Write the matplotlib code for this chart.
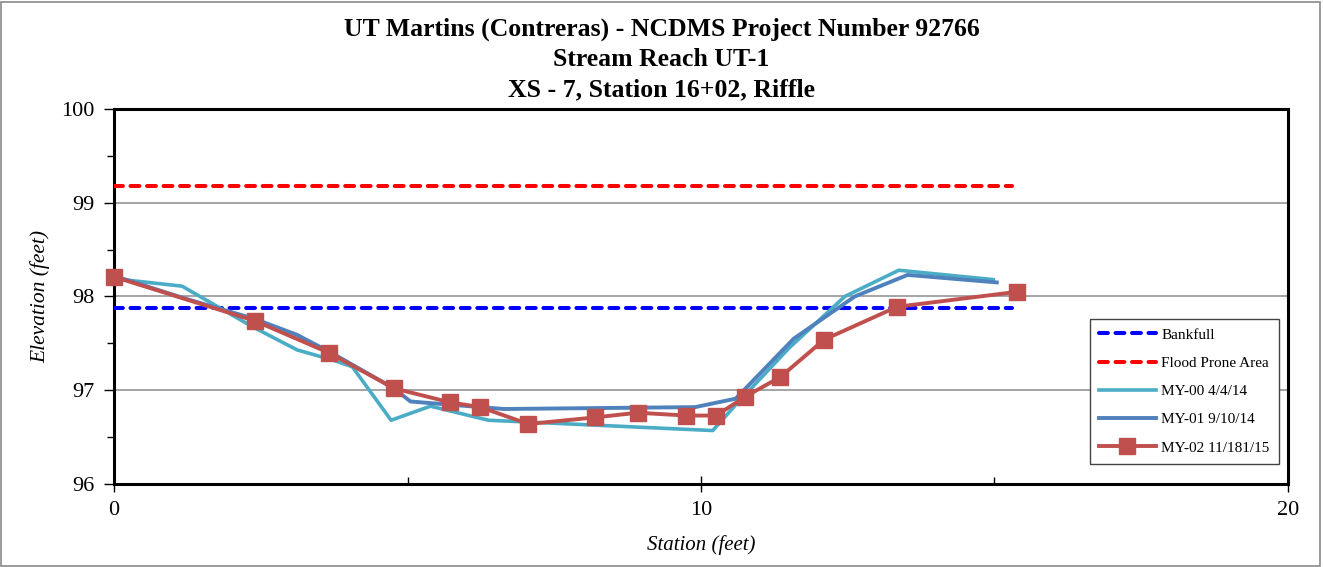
import matplotlib
matplotlib.use("Agg")
import matplotlib.pyplot as plt
from matplotlib.patches import Rectangle
from matplotlib.ticker import MultipleLocator

plt.rcParams['font.family'] = ['Liberation Serif', 'DejaVu Serif']

# survey data
bankfull_x = [0, 15.3]
bankfull_y = [97.88, 97.88]
flood_x = [0, 15.3]
flood_y = [99.18, 99.18]

my00_x = [0, 1.16, 2.35, 3.12, 3.74, 4.06, 4.72, 5.39, 6.38, 10.20, 10.6, 11.5, 12.45, 13.37, 14.98]
my00_y = [98.19, 98.11, 97.68, 97.43, 97.32, 97.25, 96.68, 96.83, 96.68, 96.57, 96.85, 97.45, 98.0, 98.28, 98.18]

my01_x = [0, 1.2, 2.4, 3.12, 3.70, 4.77, 5.05, 6.64, 9.90, 10.59, 11.58, 12.62, 13.52, 15.04]
my01_y = [98.22, 97.98, 97.76, 97.59, 97.40, 97.02, 96.88, 96.80, 96.82, 96.91, 97.55, 98.0, 98.23, 98.15]

my02_x = [0, 2.40, 3.66, 4.77, 5.73, 6.24, 7.06, 8.19, 8.92, 9.75, 10.26, 10.75, 11.35, 12.10, 13.34, 15.39]
my02_y = [98.21, 97.74, 97.40, 97.02, 96.87, 96.82, 96.64, 96.71, 96.76, 96.73, 96.73, 96.93, 97.14, 97.54, 97.89, 98.05]

title_lines = ['UT Martins (Contreras) - NCDMS Project Number 92766',
               'Stream Reach UT-1',
               'XS - 7, Station 16+02, Riffle']

fig = plt.figure(figsize=(13.23, 5.67), dpi=100)
ax = fig.add_axes([0.0862, 0.1464, 0.8873, 0.6614])

# gray frame round the whole chart
fig.patches.append(Rectangle((0.001, 0.002), 0.997, 0.995, transform=fig.transFigure,
                             fill=False, edgecolor='#8a8a8a', linewidth=1.2))

ax.plot(bankfull_x, bankfull_y, color='#0000FF', lw=2.9, dashes=(2.2, 1.9),
        dash_capstyle='round', label='Bankfull', zorder=3)
ax.plot(flood_x, flood_y, color='#FF0000', lw=2.9, dashes=(2.2, 1.9),
        dash_capstyle='round', label='Flood Prone Area', zorder=3)
ax.plot(my00_x, my00_y, color='#4BACC6', lw=2.6, label='MY-00 4/4/14', zorder=4)
ax.plot(my01_x, my01_y, color='#4F81BD', lw=2.8, label='MY-01 9/10/14', zorder=5)
ax.plot(my02_x, my02_y, color='#C0504D', lw=2.8, marker='s', markersize=11,
        label='MY-02 11/181/15', zorder=6, clip_on=False)

ax.set_xlim(0, 20)
ax.set_ylim(96, 100)
ax.xaxis.set_major_locator(MultipleLocator(10))
ax.xaxis.set_minor_locator(MultipleLocator(5))
ax.yaxis.set_major_locator(MultipleLocator(1))
ax.yaxis.set_minor_locator(MultipleLocator(0.5))

ax.tick_params(axis='x', which='major', direction='inout', length=12, width=1,
               labelsize=16, pad=6)
ax.tick_params(axis='x', which='minor', direction='in', length=5, width=1)
ax.tick_params(axis='y', which='major', direction='out', length=7, width=1,
               labelsize=16, pad=7)
ax.tick_params(axis='y', which='minor', direction='out', length=5, width=1)

for s in ax.spines.values():
    s.set_linewidth(2.2)
    s.set_color('black')

for yv in [97, 98, 99]:
    ax.axhline(yv, color='#8c8c8c', lw=1.1, zorder=1)

ax.set_xlabel('Station (feet)', fontsize=15, style='italic', labelpad=11)
ax.set_ylabel('Elevation (feet)', fontsize=15.5, style='italic', labelpad=8)

for i, line in enumerate(title_lines):
    fig.text(0.5, 0.9365 - i * 0.0529, line, ha='center', va='baseline',
             fontsize=18.5, fontweight='bold')

leg = ax.legend(loc='upper right', bbox_to_anchor=(0.9923, 0.44), fontsize=11,
                handlelength=3.75, handletextpad=0.35, labelspacing=0.95,
                numpoints=1, fancybox=False, framealpha=1, borderpad=0.6,
                borderaxespad=0)
leg.get_frame().set_edgecolor('#444444')
leg.get_frame().set_linewidth(1.0)

fig.savefig('out.png', dpi=100)
